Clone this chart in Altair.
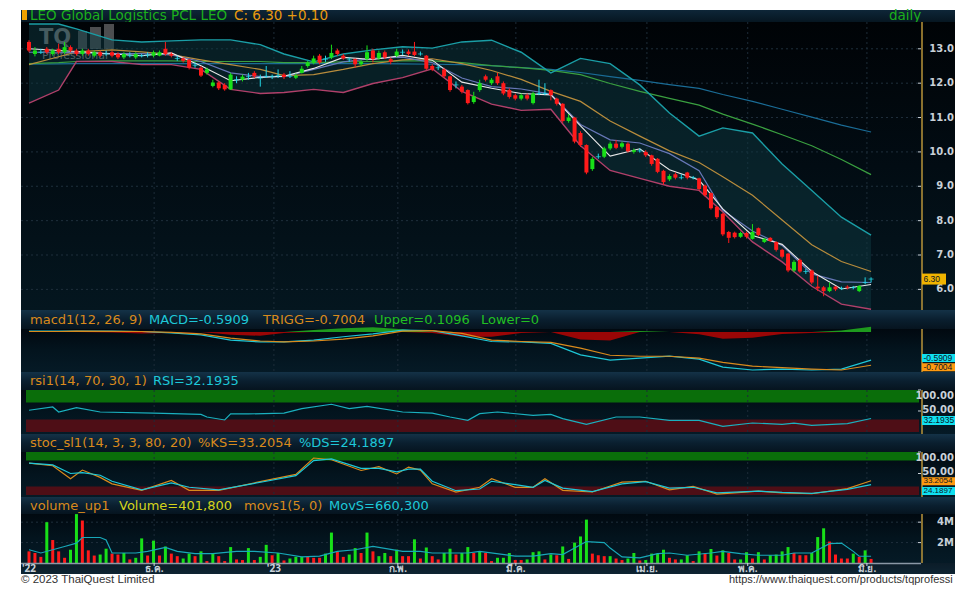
import altair as alt
import pandas as pd

# ---------------- data ----------------
opens = [13.20,12.85,12.90,13.00,12.85,13.00,12.90,13.05,12.95,12.85, 12.95,12.80,12.90,12.85,12.90,12.85,12.75,12.80,12.75,12.80,
         12.82,12.80,12.80,13.00,12.85,12.72,12.72,12.68,12.52,12.45, 12.30,11.92,12.02,11.95,11.82,12.10,12.10,12.19,12.30,12.15,
         12.20,12.20,12.22,12.25,12.20,12.16,12.30,12.50,12.60,12.80, 12.70,12.75,12.95,12.80,12.70,12.70,12.55,12.70,12.95,12.72,
         12.90,12.70,12.80,12.90,12.92,12.92,12.85,12.80,12.50,12.45, 12.40,12.20,11.95,11.90,11.80,11.45,11.80,12.20,12.00,12.20,
         12.00,11.80,11.65,11.55,11.65,11.42,11.70,11.70,11.80,11.55, 11.40,10.90,11.00,10.55,10.20,9.50,9.86,9.86,10.10,10.24,
         10.15,10.24,10.00,10.03,10.00,9.90,9.80,9.45,9.20,9.35, 9.25,9.40,9.25,9.23,9.02,8.80,8.40,8.20,7.67,7.65,
         7.53,7.64,7.47,7.78,7.38,7.50,7.38,7.15,7.04,6.55, 6.86,6.52,6.55,6.08,6.06,5.95,6.08,6.03,6.08,6.05,
         5.95,6.20,6.30]
closes = [12.95,12.95,12.90,12.90,12.95,12.90,13.05,12.95,12.85,12.95, 12.85,12.90,12.80,12.85,12.80,12.75,12.85,12.80,12.85,12.80,
          12.82,12.90,12.90,12.85,12.80,12.72,12.65,12.45,12.52,12.22, 12.40,12.02,11.85,11.82,12.25,12.10,12.19,12.19,12.20,12.15,
          12.20,12.20,12.22,12.18,12.20,12.22,12.42,12.60,12.72,12.60, 12.70,12.88,12.85,12.72,12.70,12.55,12.62,12.90,12.70,12.88,
          12.75,12.62,12.92,12.90,12.85,12.82,12.85,12.42,12.40,12.45, 12.20,11.80,11.95,11.75,11.42,11.62,12.00,12.10,12.10,12.00,
          11.70,11.60,11.55,11.65,11.55,11.70,11.70,11.70,11.65,11.40, 10.90,11.00,10.30,10.20,9.40,9.80,9.86,10.10,10.24,10.12,
          10.25,10.02,10.05,10.03,9.90,9.65,9.42,9.12,9.30,9.25, 9.25,9.25,9.25,8.92,8.74,8.36,8.10,7.60,7.50,7.52,
          7.64,7.53,7.67,7.58,7.47,7.41,7.15,6.95,6.55,6.80, 6.52,6.52,6.20,6.03,5.95,6.06,6.00,6.03,6.05,6.05,
          6.10,6.20,6.30]
highs = [13.25,13.05,13.00,13.05,13.00,13.15,13.20,13.10,13.00,13.00, 13.00,12.95,12.95,12.95,12.95,12.90,12.90,12.90,12.90,12.85,
         12.90,12.95,12.95,13.20,12.90,12.80,12.75,12.70,12.60,12.50, 12.45,12.10,12.05,12.00,12.30,12.20,12.25,12.30,12.35,12.25,
         12.50,12.25,12.40,12.30,12.35,12.28,12.50,12.65,12.80,12.85, 12.80,13.12,13.00,12.85,12.75,12.72,12.68,13.10,13.00,12.95,
         12.95,12.75,13.00,12.98,12.98,13.20,12.92,12.82,12.55,12.52, 12.45,12.22,12.05,11.95,11.82,11.75,12.10,12.25,12.15,12.30,
         12.05,11.85,11.70,11.70,11.70,11.75,12.10,12.00,11.82,11.58, 11.42,11.10,11.02,10.60,10.22,9.85,9.95,10.15,10.30,10.35,
         10.30,10.28,10.10,10.10,10.05,9.92,9.82,9.48,9.35,9.40, 9.35,9.42,9.30,9.25,9.05,8.82,8.42,8.22,7.70,7.68,
         7.68,7.68,7.90,7.80,7.50,7.52,7.40,7.18,7.06,6.85, 6.90,6.60,6.58,6.40,6.10,6.20,6.10,6.08,6.12,6.10,
         6.12,6.35,6.35]
lows = [12.90,12.78,12.85,12.85,12.80,12.85,12.85,12.90,12.80,12.80, 12.80,12.75,12.75,12.80,12.75,12.70,12.70,12.75,12.70,12.75,
        12.75,12.75,12.78,12.80,12.75,12.65,12.60,12.40,12.45,12.18, 12.25,11.88,11.80,11.78,11.80,12.00,12.05,12.10,12.15,11.90,
        12.15,12.12,12.15,12.12,12.15,12.12,12.28,12.45,12.55,12.55, 12.62,12.70,12.80,12.68,12.62,12.45,12.50,12.65,12.60,12.68,
        12.70,12.55,12.75,12.82,12.80,12.78,12.80,12.38,12.35,12.38, 12.15,11.75,11.85,11.70,11.38,11.40,11.75,12.05,11.95,11.95,
        11.65,11.55,11.50,11.50,11.50,11.38,11.65,11.65,11.50,11.35, 10.85,10.85,10.25,10.15,9.35,9.45,9.80,9.82,10.05,10.08,
        10.10,9.98,9.95,9.98,9.85,9.60,9.38,9.05,9.15,9.20, 9.20,9.20,9.20,8.88,8.70,8.32,8.05,7.55,7.35,7.48,
        7.50,7.48,7.45,7.55,7.35,7.38,7.10,6.90,6.50,6.50, 6.48,6.45,6.15,5.95,5.80,5.92,5.95,5.98,6.00,6.00,
        5.92,6.15,6.20]

# volume in millions of shares, and whether it was up ("g") or down ("r")
volume_m = [1.14,0.98,0.60,4.00,2.25,1.14,0.51,1.30,4.79,4.16, 1.24,0.73,0.83,1.40,0.92,0.83,0.98,0.35,0.51,2.41,
            0.73,2.19,0.73,1.62,0.92,0.67,0.44,0.92,0.67,1.14, 0.19,0.92,0.67,0.19,1.56,0.35,0.29,1.46,0.29,0.60,
            1.78,0.76,0.98,0.25,0.44,0.60,0.60,0.60,0.51,0.51, 0.92,2.98,1.14,0.60,0.83,1.46,0.98,2.98,1.14,0.67,
            0.98,0.67,1.30,0.67,0.67,2.32,0.44,1.52,0.67,0.35, 0.98,1.40,0.83,0.98,1.56,0.98,1.14,
            0.98,0.19,0.51,0.51,0.98,0.29,0.29,0.35,1.06,1.14, 0.35,0.83,0.76,1.62,0.40,2.00,2.60,4.25,0.92,0.76,
            0.67,0.67,0.44,0.29,0.44,0.98,0.25,0.29,0.92,0.92, 1.30,0.51,0.35,0.35,0.76,0.19,1.14,0.98,1.37,0.73,
            1.24,0.98,0.35,0.35,1.06,0.44,1.06,0.35,0.76,0.83, 1.14,1.56,0.98,0.76,0.76,0.98,2.54,3.40,2.10,0.83,
            0.44,0.44,0.92,0.60,1.24,0.40]
volume_dir = list("rrrgrrrggr" "rrggrrgrgg" "rgrgrrggrg" "rgrrgrrgrg" "grgrgggrrr" "ggrrggrgrg" "grgrrgrgrr" "ggrggrg"
                  "rrgggrrggg" "rgrgrgggrr" "rgrrggrggg" "grrggrgrgr" "grrggrgrgg" "ggrrrgggrr" "rrgrgr")

# overlays, read at these bar positions
ov_idx = [0,5,8,14,19,24,29,34,39,43,48,53,58,63,68,73,78,83,88,93,98,103,108,113,117,122,127,132,137,142]
bb_upper = [13.72,13.72,13.58,13.26,13.20,13.23,13.26,13.26,13.12,12.85,12.62,12.85,12.97,13.06,13.02,13.20,13.25,12.90,12.30,12.72,12.57,11.95,11.13,10.46,10.70,10.55,9.65,8.88,8.10,7.58]
bb_lower = [11.42,11.80,12.63,12.63,12.54,12.54,12.40,11.82,11.70,11.73,11.82,11.73,11.99,12.16,12.42,11.76,11.39,11.21,11.24,10.18,9.46,9.23,9.00,8.88,8.25,7.38,6.80,6.09,5.57,5.42]
ma_white = [13.00,12.95,12.92,12.85,12.80,12.88,12.51,12.07,12.17,12.20,12.43,12.75,12.69,12.81,12.67,12.03,11.85,11.70,11.66,10.76,9.88,10.09,9.48,9.18,8.34,7.57,7.31,6.52,6.01,6.14]
ma_purple = [12.90,12.90,12.88,12.86,12.86,12.82,12.63,12.30,12.19,12.19,12.40,12.62,12.72,12.76,12.60,12.15,11.90,11.83,11.68,10.80,10.35,10.26,9.95,9.45,8.30,7.70,7.28,6.45,6.22,6.20]
ma_orange = [12.54,12.77,12.91,12.97,12.91,12.83,12.68,12.54,12.40,12.22,12.25,12.40,12.57,12.68,12.71,12.57,12.37,12.11,11.76,11.47,10.90,10.46,10.03,9.69,9.28,8.74,8.02,7.30,6.81,6.52]
ma_green = [12.57,12.60,12.63,12.65,12.65,12.65,12.63,12.63,12.63,12.60,12.60,12.62,12.63,12.65,12.65,12.60,12.51,12.45,12.37,12.25,11.99,11.76,11.56,11.36,11.10,10.81,10.50,10.18,9.78,9.34]
ma_blue = [12.55,12.56,12.57,12.57,12.57,12.57,12.57,12.57,12.57,12.57,12.57,12.57,12.57,12.56,12.55,12.54,12.51,12.45,12.40,12.31,12.19,12.08,11.96,11.85,11.67,11.47,11.24,11.01,10.78,10.58]

macd_line = [0.02,0.02,0.02,0.02,0.01,-0.02,-0.06,-0.17,-0.21,-0.21,-0.17,-0.10,-0.04,0.04,0.03,-0.08,-0.20,-0.21,-0.24,-0.48,-0.59,-0.55,-0.51,-0.57,-0.74,-0.80,-0.78,-0.80,-0.78,-0.5909]
macd_trigg = [0.01,0.01,0.02,0.015,0.01,-0.01,-0.04,-0.13,-0.19,-0.21,-0.19,-0.15,-0.08,0.02,0.03,-0.03,-0.17,-0.20,-0.22,-0.34,-0.49,-0.51,-0.51,-0.55,-0.64,-0.72,-0.75,-0.78,-0.80,-0.7004]
macd_hist = [0.0,0.01,0.02,-0.01,-0.03,-0.02,0.0,-0.06,-0.08,-0.02,0.04,0.08,0.10,0.06,-0.02,-0.10,-0.10,-0.02,0.0,-0.16,-0.18,0.02,0.0,-0.05,-0.14,-0.12,-0.04,-0.02,0.03,0.1096]

rsi_idx = [0,4,5,8,12,21,29,30,33,34,37,43,46,51,54,57,63,68,71,74,76,79,85,88,90,94,99,103,108,113,117,122,127,129,132,138,142]
rsi_val = [51.7,59.5,47.6,57.9,47.6,45,42,35.7,28.6,43,43,45,55.5,66,55.5,61,47.6,45,35.7,27.8,43.6,47.6,39.7,42,31.7,18.3,35.7,35.7,27.8,27.8,13.5,21.4,18.3,21,15.9,19.8,32.1935]

st_idx = [0,4,7,9,12,14,19,24,27,32,40,45,48,51,56,59,62,64,66,68,72,76,78,82,85,87,90,95,100,104,108,112,116,123,127,132,138,142]
st_k = [74,68,38,58,41,26,11,34,11,11,34,48,86,82,57,66,49,65,58,26,7,18,38,18,18,38,11,7,30,32,12,20,2,9,5,3,15,33.2054]
st_d = [74,70,50,52,46,32,12,28,18,12,32,45,80,84,62,62,54,60,60,32,10,14,32,24,18,34,16,8,26,31,16,18,5,9,6,4,13,24.1897]

movs_idx = [0,2,6,8,9,12,13,14,18,20,23,25,28,31,35,38,42,46,49,52,55,58,63,66,68,74,76,82,85,88,90,92,94,97,98,100,103,106,108,111,115,117,120,123,127,129,132,135,137,139,140,142]
movs_val = [1.3,0.98,1.62,1.95,2.5,2.5,2.25,0.98,0.98,1.14,1.52,1.14,0.92,0.92,1.14,1.14,0.98,0.6,0.67,1.14,1.3,1.62,1.14,1.14,0.98,0.98,1.14,0.67,0.67,0.92,0.83,1.46,2.1,2.0,1.46,0.6,0.51,0.92,0.98,0.76,0.98,1.14,0.92,0.76,0.76,0.98,0.98,1.9,1.95,1.14,0.67,0.66]

price_ticks = [6, 7, 8, 9, 10, 11, 12, 13]
price_tick_lbl = ["6.0", "7.0", "8.0", "9.0", "10.0", "11.0", "12.0", "13.0"]
osc_ticks = [50, 100]
osc_tick_lbl = ["50.00", "100.00"]
vol_ticks = [2, 4]
vol_tick_lbl = ["2M", "4M"]
month_idx = [0, 21.1, 41.3, 62.2, 82.1, 104.2, 121.2, 141.3]
month_lbl = ["'22", "ธ.ค.", "'23", "ก.พ.", "มี.ค.", "เม.ย.", "พ.ค.", "มิ.ย."]

# ---------------- layout / style ----------------
W = 900          # plot width (page x 20 .. 920)
FW = 934         # right end of the dark panels, in plot coordinates
LBL_X = 933      # right edge of axis labels
FONT = "DejaVu Sans"
XDOM = [-1.35, 150.42]
one = pd.DataFrame({"z": [0]})


def lg(*cols):
    n = len(cols) - 1
    stops = [alt.GradientStop(color=c, offset=k / n) for k, c in enumerate(cols)]
    return alt.LinearGradient(gradient="linear", stops=stops, x1=0, x2=0, y1=0, y2=1)


HDR = lg("#143247", "#0a1f2f", "#06141f")
IND = lg("#010910", "#03141e", "#051a26")


def bg(h, grad):
    return alt.Chart(one).mark_rect(fill=grad, strokeWidth=0).encode(
        x=alt.value(0), x2=alt.value(FW), y=alt.value(0), y2=alt.value(h))


def txt(s, x, y, color, size=13, align="left", weight="normal", font=FONT, **kw):
    return alt.Chart(one).mark_text(text=s, align=align, baseline="middle", font=font,
                                    fontSize=size, color=color, fontWeight=weight, **kw).encode(
        x=alt.value(x), y=alt.value(y))


xs = alt.Scale(domain=XDOM, nice=False, zero=False)
X = alt.X("i:Q", scale=xs, axis=None)


def Y(f, sc):
    return alt.Y(f, type="quantitative", scale=sc, axis=None)


def right_axis(h, sc, values, labels, top_flush=None, mid_dy=0):
    """domain line, small inner ticks and labels on the right side of a panel"""
    df = pd.DataFrame({"v": values, "t": labels})
    layers = [
        alt.Chart(one).mark_rule(color="#b8953a", strokeWidth=1.5).encode(
            x=alt.value(W + 1), y=alt.value(0), y2=alt.value(h)),
        alt.Chart(df).mark_rule(color="#c8d0d8").encode(x=alt.value(W - 3), x2=alt.value(W), y=Y("v:Q", sc)),
    ]
    if top_flush is not None:
        main = df[df.v != top_flush]
        top = df[df.v == top_flush]
        layers.append(alt.Chart(top).mark_text(align="right", baseline="top", font=FONT, fontSize=10,
                                               fontWeight="bold", color="#c8d0d8", dy=1).encode(
            x=alt.value(LBL_X), y=Y("v:Q", sc), text="t:N"))
    else:
        main = df
    layers.append(alt.Chart(main).mark_text(align="right", baseline="middle", font=FONT, fontSize=10,
                                            fontWeight="bold", color="#c8d0d8", dy=mid_dy).encode(
        x=alt.value(LBL_X), y=Y("v:Q", sc), text="t:N"))
    return layers


def box(value, label, fill, sc, x0=901, w=33, th=9, tcol="#0a1626", off=0, fs=8.5):
    b = alt.Chart(one).mark_tick(orient="horizontal", size=w, thickness=th, color=fill, opacity=1, yOffset=off).encode(
        x=alt.value(x0 + w / 2), y=alt.YDatum(value, scale=sc, axis=None))
    t = alt.Chart(one).mark_text(text=label, align="left", baseline="middle", font="Liberation Sans",
                                 fontSize=fs, color=tcol, dy=off).encode(
        x=alt.value(x0 + 1.5), y=alt.YDatum(value, scale=sc, axis=None))
    return [b, t]


mdf = pd.DataFrame({"i": month_idx[1:]})


def vgrid():
    return alt.Chart(mdf).mark_rule(color="#1d2c39", strokeDash=[2, 3]).encode(x=X)


def header(h, segs):
    layers = [bg(h, HDR)] + [txt(s, x, h / 2, c) for s, x, c in segs]
    return alt.layer(*layers).properties(width=W, height=h)


ORANGE = "#d98a1c"
CYAN = "#1ec8d8"
GREEN = "#22c022"

# ---------------- title row ----------------
H_T = 12
title_row = alt.layer(
    bg(H_T, lg("#0e2638", "#061621")),
    alt.Chart(one).mark_rect(color="#f0a000").encode(x=alt.value(1), x2=alt.value(6), y=alt.value(0), y2=alt.value(10)),
    txt("LEO Global Logistics PCL LEO", 9, 5.5, "#1cb01c", size=13.5),
    txt("C: 6.30 +0.10", 213, 5.5, "#e89a10", size=13.5),
    txt("daily", 868, 5.5, "#1cb01c", size=13.5),
).properties(width=W, height=H_T)

# ---------------- price panel ----------------
H_P = 288
ps = alt.Scale(domain=[5.40, 13.78], nice=False, zero=False)
n = len(closes)
kind = ["up" if c > o else ("down" if c < o else "flat") for o, c in zip(opens, closes)]
cdf = pd.DataFrame({"i": list(range(n)), "o": opens, "c": closes, "h": highs, "l": lows, "k": kind})
ccol = alt.Color("k:N", scale=alt.Scale(domain=["up", "down", "flat"], range=["#18e018", "#ff1a1a", "#22d8e8"]), legend=None)
odf = pd.DataFrame({"i": ov_idx, "up": bb_upper, "lo": bb_lower, "w": ma_white, "p": ma_purple,
                    "o": ma_orange, "g": ma_green, "b": ma_blue})
gdf = pd.DataFrame({"v": price_ticks})


def ma(field, color, w=1.2):
    return alt.Chart(odf).mark_line(color=color, strokeWidth=w, clip=True).encode(x=X, y=Y(field + ":Q", ps))


price = alt.layer(
    bg(H_P, lg("#000306", "#020c13", "#04161f")),
    alt.Chart(gdf).mark_rule(color="#1f2f3c", strokeDash=[2, 3]).encode(y=Y("v:Q", ps), x=alt.value(0), x2=alt.value(W)),
    vgrid(),
    alt.Chart(one).mark_rect(color="#c8c8c8", opacity=0.38).encode(x=alt.value(57), x2=alt.value(66), y=alt.value(9), y2=alt.value(27)),
    alt.Chart(one).mark_rect(color="#c8c8c8", opacity=0.38).encode(x=alt.value(69), x2=alt.value(80), y=alt.value(5), y2=alt.value(27)),
    alt.Chart(one).mark_rect(color="#c8c8c8", opacity=0.38).encode(x=alt.value(83), x2=alt.value(93), y=alt.value(2), y2=alt.value(27)),
    txt("TQ", 18, 16, "#d0d0d0", size=21, weight="bold", opacity=0.6),
    txt("Professional", 21, 34, "#d0d0d0", size=11, opacity=0.65),
    alt.Chart(odf).mark_area(color="#0d3840", opacity=0.5, clip=True).encode(x=X, y=Y("up:Q", ps), y2="lo:Q"),
    ma("b", "#1a6c96"),
    ma("g", "#3aa040"),
    ma("o", "#b88c3c"),
    ma("up", "#1a9ea6", 1.4),
    ma("lo", "#b0406a", 1.4),
    ma("p", "#6878b8"),
    ma("w", "#e8e8e8", 1.1),
    alt.Chart(cdf).mark_rule(strokeWidth=1, clip=True).encode(x=X, y=Y("l:Q", ps), y2="h:Q", color=ccol),
    alt.Chart(cdf).mark_rule(strokeWidth=4, clip=True).encode(x=X, y=Y("o:Q", ps), y2="c:Q", color=ccol),
    alt.Chart(cdf).transform_filter("datum.k == 'flat'").mark_tick(orient="horizontal", size=5, thickness=1, clip=True).encode(
        x=X, y=Y("c:Q", ps), color=ccol),
    *right_axis(H_P, ps, price_ticks, price_tick_lbl),
    *box(6.30, "6.30", "#f0b400", ps, x0=901, w=24, th=11),
).properties(width=W, height=H_P)

# ---------------- MACD ----------------
H_M = 43
ms = alt.Scale(domain=[-0.842, 0.063], nice=False, zero=False)
macd_df = pd.DataFrame({"i": ov_idx, "m": macd_line, "t": macd_trigg, "h": macd_hist})
macd_hdr = header(19, [("macd1(12, 26, 9)", 9, ORANGE), ("MACD=-0.5909", 128, CYAN), ("TRIGG=-0.7004", 242, ORANGE),
                       ("Upper=0.1096", 353, GREEN), ("Lower=0", 460, GREEN)])
macd_panel = alt.layer(
    bg(H_M, IND),
    vgrid(),
    alt.Chart(macd_df).transform_calculate(p="max(datum.h, 0)").mark_area(color="#1e9a1e").encode(
        x=X, y=Y("p:Q", ms), y2=alt.datum(0)),
    alt.Chart(macd_df).transform_calculate(q="min(datum.h, 0)").mark_area(color="#9a0606").encode(
        x=X, y=Y("q:Q", ms), y2=alt.datum(0)),
    alt.Chart(macd_df).mark_line(color=CYAN, strokeWidth=1.2).encode(x=X, y=Y("m:Q", ms)),
    alt.Chart(macd_df).mark_line(color=ORANGE, strokeWidth=1.2).encode(x=X, y=Y("t:Q", ms)),
    alt.Chart(one).mark_rule(color="#b8953a", strokeWidth=1.5).encode(x=alt.value(W + 1), y=alt.value(0), y2=alt.value(H_M)),
    *box(-0.5909, "-0.5909", "#10e0f0", ms, th=8, off=-2),
    *box(-0.7004, "-0.7004", "#ff9a10", ms, th=8, off=2),
).properties(width=W, height=H_M)

# ---------------- RSI ----------------
H_R = 44
rs = alt.Scale(domain=[-4.8, 100], nice=False, zero=False)
rsi_df = pd.DataFrame({"i": rsi_idx, "r": rsi_val})
rsi_hdr = header(18, [("rsi1(14, 70, 30, 1)", 9, ORANGE), ("RSI=32.1935", 132, CYAN)])
rsi_panel = alt.layer(
    bg(H_R, IND),
    alt.Chart(one).mark_rect(color="#0a6e0a").encode(x=alt.value(5), x2=alt.value(898), y=alt.YDatum(70, scale=rs, axis=None), y2=alt.datum(100)),
    alt.Chart(one).mark_rect(color="#4e0e16").encode(x=alt.value(5), x2=alt.value(898), y=alt.YDatum(0, scale=rs, axis=None), y2=alt.datum(30)),
    vgrid(),
    alt.Chart(rsi_df).mark_line(color="#1ab0be", strokeWidth=1.2).encode(x=X, y=Y("r:Q", rs)),
    *right_axis(H_R, rs, osc_ticks, osc_tick_lbl, top_flush=100, mid_dy=-1),
    *box(32.1935, "32.1935", "#10e0f0", rs, off=2),
).properties(width=W, height=H_R)

# ---------------- Stochastic ----------------
H_S = 45
ss = alt.Scale(domain=[-4.6, 100], nice=False, zero=False)
st_df = pd.DataFrame({"i": st_idx, "k": st_k, "d": st_d})
st_hdr = header(18, [("stoc_sl1(14, 3, 3, 80, 20)", 9, ORANGE), ("%KS=33.2054", 177, ORANGE), ("%DS=24.1897", 278, CYAN)])
st_panel = alt.layer(
    bg(H_S, IND),
    alt.Chart(one).mark_rect(color="#0a6e0a").encode(x=alt.value(5), x2=alt.value(898), y=alt.YDatum(80, scale=ss, axis=None), y2=alt.datum(100)),
    alt.Chart(one).mark_rect(color="#4e0e16").encode(x=alt.value(5), x2=alt.value(898), y=alt.YDatum(0, scale=ss, axis=None), y2=alt.datum(20)),
    vgrid(),
    alt.Chart(st_df).mark_line(color=ORANGE, strokeWidth=1.2).encode(x=X, y=Y("k:Q", ss)),
    alt.Chart(st_df).mark_line(color=CYAN, strokeWidth=1.2).encode(x=X, y=Y("d:Q", ss)),
    *right_axis(H_S, ss, osc_ticks, osc_tick_lbl, top_flush=100, mid_dy=-2),
    *box(33.2054, "33.2054", "#ff9a10", ss, th=8, off=0.5, fs=8),
    *box(24.1897, "24.1897", "#10e0f0", ss, th=8, off=6.5, fs=8),
).properties(width=W, height=H_S)

# ---------------- Volume ----------------
H_V = 49
vs = alt.Scale(domain=[0, 4.8], nice=False, zero=False)
vdf = pd.DataFrame({"i": list(range(len(volume_m))), "v": volume_m, "u": volume_dir})
mvdf = pd.DataFrame({"i": movs_idx, "m": movs_val})
vol_hdr = header(17, [("volume_up1", 9, ORANGE), ("Volume=401,800", 98, "#d4d41c"), ("movs1(5, 0)", 223, ORANGE),
                      ("MovS=660,300", 308, CYAN)])
vol_panel = alt.layer(
    bg(H_V, IND),
    alt.Chart(pd.DataFrame({"v": vol_ticks})).mark_rule(color="#1f2f3c", strokeDash=[2, 3]).encode(y=Y("v:Q", vs), x=alt.value(0), x2=alt.value(W)),
    vgrid(),
    alt.Chart(vdf).mark_rule(strokeWidth=3, clip=True).encode(
        x=X, y=Y("v:Q", vs), y2=alt.datum(0),
        color=alt.Color("u:N", scale=alt.Scale(domain=["g", "r"], range=["#22e022", "#ff1a1a"]), legend=None)),
    alt.Chart(mvdf).mark_line(color="#18a8b8", strokeWidth=1.2).encode(x=X, y=Y("m:Q", vs)),
    *right_axis(H_V, vs, vol_ticks, vol_tick_lbl),
).properties(width=W, height=H_V)

# ---------------- x axis row ----------------
H_X = 11
lbl_df = pd.DataFrame({"i": month_idx, "t": month_lbl})
xrow = alt.layer(
    bg(H_X, lg("#0b1c28", "#0e2432")),
    alt.Chart(one).mark_rule(color="#8a98a6", strokeWidth=1.5).encode(x=alt.value(0), x2=alt.value(W), y=alt.value(0.5)),
    alt.Chart(lbl_df).mark_rule(color="#d0d8e0").encode(x=X, y=alt.value(0), y2=alt.value(3)),
    alt.Chart(lbl_df).mark_text(font="Noto Sans", fontSize=10, fontWeight="bold", color="#c8d0d8", baseline="middle").encode(
        x=X, y=alt.value(5.5), text="t:N"),
).properties(width=W, height=H_X)

# ---------------- footer ----------------
H_F = 10
footer = alt.layer(
    txt("© 2023 ThaiQuest Limited", 0, 6, "#333333", size=11.5, font="Liberation Sans"),
    txt("https://www.thaiquest.com/products/tqprofessional", 708, 6, "#333333", size=11, font="Liberation Sans",
        limit=224, ellipsis="\u200b"),
).properties(width=W, height=H_F)

chart = alt.vconcat(
    title_row, price, macd_hdr, macd_panel, rsi_hdr, rsi_panel, st_hdr, st_panel, vol_hdr, vol_panel, xrow, footer,
    spacing=0, bounds="flush",
).properties(
    padding={"left": 12, "top": 0, "right": 0, "bottom": 0}, background="#ffffff"
).configure_view(stroke=None)

chart.save("out.html", embed_options={"renderer": "svg", "actions": False})
